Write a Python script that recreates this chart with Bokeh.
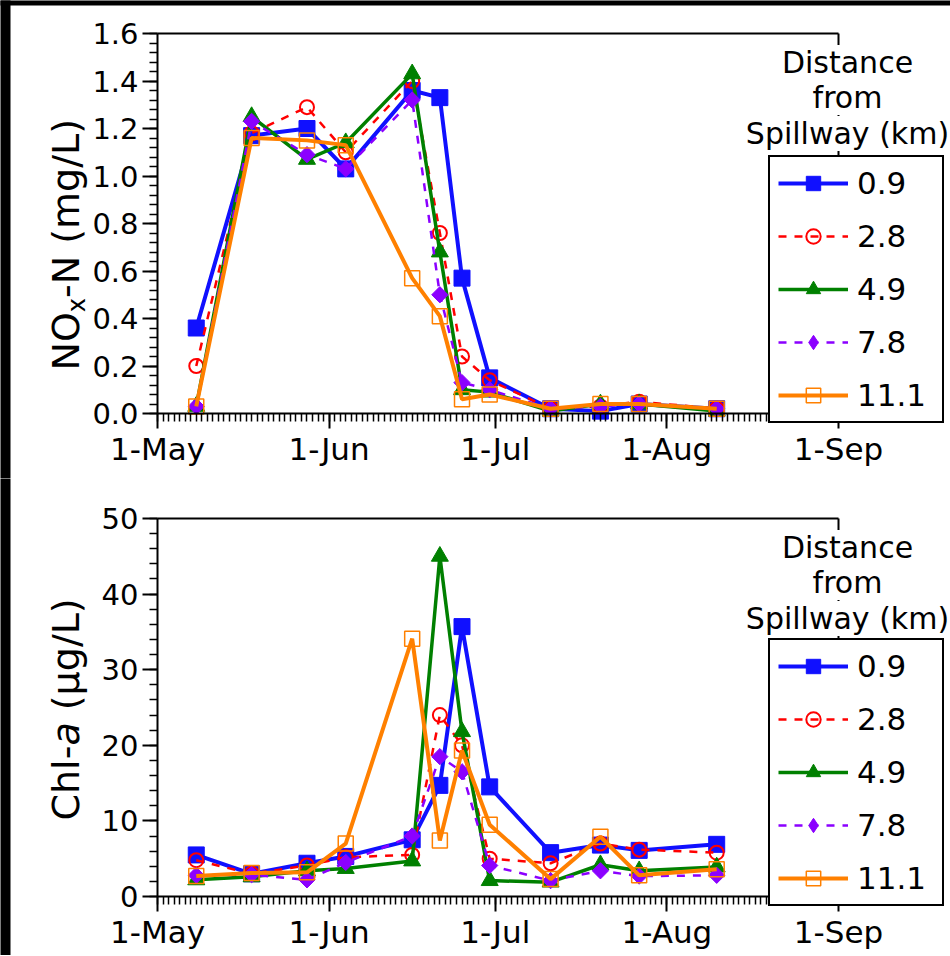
import pandas as pd
from math import pi
from bokeh.plotting import figure
from bokeh.layouts import column
from bokeh.models import (Range1d, FixedTicker, SingleIntervalTicker, PrintfTickFormatter,
                          LinearAxis, Legend, LegendItem, Label, BoxAnnotation)
from bokeh.embed import file_html
from bokeh.resources import INLINE

# ---------------- data ----------------
sample_dates = ["2011-05-08", "2011-05-18", "2011-05-28", "2011-06-04", "2011-06-16", "2011-06-21",
                "2011-06-25", "2011-06-30", "2011-07-11", "2011-07-20", "2011-07-27", "2011-08-10"]
distance_labels = ["0.9", "2.8", "4.9", "7.8", "11.1"]

nox_0_9 = [0.36, 1.17, 1.20, 1.03, 1.36, 1.33, 0.57, 0.15, 0.02, 0.01, 0.04, 0.02]
nox_2_8 = [0.20, 1.18, 1.29, 1.10, 1.40, 0.76, 0.24, 0.14, 0.02, 0.03, 0.05, 0.02]
nox_4_9 = [0.03, 1.25, 1.07, 1.14, 1.43, 0.68, 0.10, 0.09, 0.01, 0.04, 0.04, 0.01]
nox_7_8 = [0.03, 1.23, 1.09, 1.03, 1.32, 0.50, 0.13, 0.10, 0.02, 0.03, 0.04, 0.02]
nox_11_1 = [0.03, 1.16, 1.15, 1.13, 0.57, 0.41, 0.06, 0.08, 0.02, 0.04, 0.04, 0.02]

chl_0_9 = [5.5, 3.0, 4.4, 5.3, 7.5, 14.7, 35.7, 14.5, 5.8, 6.8, 6.1, 6.9]
chl_2_8 = [4.8, 3.0, 4.1, 5.2, 5.5, 24.0, 20.0, 5.0, 4.4, 7.0, 6.2, 5.8]
chl_4_9 = [2.2, 2.6, 3.4, 3.7, 4.7, 45.0, 21.8, 2.1, 1.9, 4.2, 3.4, 3.9]
chl_7_8 = [2.8, 2.9, 2.2, 4.5, 8.0, 18.5, 16.5, 4.1, 2.1, 3.4, 2.7, 2.8]
chl_11_1 = [2.7, 3.1, 3.2, 7.0, 34.1, 7.4, 19.3, 9.5, 2.3, 7.9, 2.8, 3.6]

month_tick_dates = ["2011-05-01", "2011-06-01", "2011-07-01", "2011-08-01", "2011-09-01"]
month_tick_labels = ["1-May", "1-Jun", "1-Jul", "1-Aug", "1-Sep"]
legend_title_lines = ["Distance", "from", "Spillway (km)"]

# ---------------- styles / layout ----------------
FONT = "DejaVu Sans"
series_styles = [
    dict(color="#1010ff", width=4, dash="solid", marker="square", size=16, angle=0, filled=True, mlw=1,
         legend_marker="square"),
    dict(color="#ff0000", width=2.5, dash="8 8", marker="circle", size=14, angle=0, filled=False, mlw=2,
         legend_marker="circle"),
    dict(color="#008000", width=3.5, dash="solid", marker="triangle", size=17, angle=0, filled=True, mlw=1,
         legend_marker="triangle"),
    dict(color="#8b00ff", width=2.5, dash="8 8", marker="square", size=11.5, angle=pi / 4, filled=True, mlw=1,
         legend_marker="diamond"),
    dict(color="#ff8000", width=4, dash="solid", marker="square", size=15, angle=0, filled=False, mlw=1.5,
         legend_marker="square"),
]

# DejaVu Sans advance widths (per 1000 em) used to chain rotated label pieces
ADV = {"N": 748, "O": 787, "x": 592, "-": 361, " ": 318, "(": 390, "m": 974, "g": 635, "/": 337,
       "L": 557, ")": 390, "C": 698, "h": 634, "l": 278, "a": 613, "µ": 636}


def text_w(t, size):
    return sum(ADV.get(c, 600) for c in t) * size / 1000.0


x_dates = pd.to_datetime(sample_dates)
month_ts = pd.to_datetime(month_tick_dates)
month_ms = [int(t.value // 10**6) for t in month_ts]
day_ms = [int(t.value // 10**6) for t in pd.date_range(month_ts[0], month_ts[-1], freq="D")]
MAY1, SEP1 = month_ms[0], month_ms[-1]

W = 950
AX_LEFT_PX, AX_RIGHT_PX = 157, 838          # pixel x of 1-May and 1-Sep
PPMS = (AX_RIGHT_PX - AX_LEFT_PX) / (SEP1 - MAY1)
X_START = MAY1 - AX_LEFT_PX / PPMS
X_END = MAY1 + (W - AX_LEFT_PX) / PPMS


def make_panel(values, y_max, y_step, y_fmt, H, top_px, zero_px, label_pieces, label_start_px,
               legend_bottom_px, title_px, top_strip):
    upp = y_max / (zero_px - top_px)
    y_start = -(H - zero_px) * upp
    y_end = y_max + top_px * upp
    p = figure(width=W, height=H, x_axis_type="datetime",
               x_range=Range1d(X_START, X_END), y_range=Range1d(y_start, y_end),
               output_backend="svg", toolbar_location=None, title=None,
               min_border=0, min_border_left=0, min_border_right=0,
               min_border_top=0, min_border_bottom=0)
    p.outline_line_color = None
    p.background_fill_color = "white"
    p.border_fill_color = "white"
    p.xgrid.visible = False
    p.ygrid.visible = False

    xa = p.xaxis[0]
    xa.ticker = FixedTicker(ticks=month_ms, minor_ticks=day_ms)
    xa.major_label_overrides = {m: lab for m, lab in zip(month_ms, month_tick_labels)}
    xa.fixed_location = 0
    xa.bounds = (MAY1, SEP1)
    ya = p.yaxis[0]
    ya.ticker = SingleIntervalTicker(interval=y_step, num_minor_ticks=5)
    ya.formatter = PrintfTickFormatter(format=y_fmt)
    ya.fixed_location = MAY1
    ya.bounds = (0, y_max)
    for ax in (xa, ya):
        ax.axis_line_width = 2
        ax.axis_line_color = "black"
        ax.major_tick_line_width = 2
        ax.major_tick_out = 15
        ax.major_tick_in = 0
        ax.minor_tick_line_width = 1.5
        ax.minor_tick_out = 8
        ax.minor_tick_in = 0
        ax.major_label_text_font = FONT
        ax.major_label_text_color = "black"
    xa.major_label_text_font_size = "31px"
    xa.major_label_standoff = 2
    ya.major_label_text_font_size = "29px"
    ya.major_label_standoff = 4

    # top and right frame lines
    top_sp = LinearAxis(ticker=FixedTicker(ticks=[]), fixed_location=y_max, bounds=(MAY1, SEP1),
                        axis_line_width=2, axis_line_color="black", major_tick_out=0, major_tick_in=0,
                        minor_tick_out=0, minor_tick_in=0, major_label_text_font_size="0px")
    p.add_layout(top_sp, "above")
    right_sp = LinearAxis(ticker=FixedTicker(ticks=[]), fixed_location=SEP1, bounds=(0, y_max),
                          axis_line_width=2, axis_line_color="black", major_tick_out=0, major_tick_in=0,
                          minor_tick_out=0, minor_tick_in=0, major_label_text_font_size="0px")
    p.add_layout(right_sp, "right")

    items = []
    for vals, st, lab in zip(values, series_styles, distance_labels):
        fill = st["color"] if st["filled"] else None
        lr = p.line(x_dates, vals, line_color=st["color"], line_width=st["width"], line_dash=st["dash"])
        legend_r = None
        if st["legend_marker"] != st["marker"]:
            # tiny marker hidden under the rotated one; the legend draws it at legend size
            legend_r = p.scatter(x_dates, vals, marker=st["legend_marker"], size=3,
                                 line_color=st["color"], line_width=st["mlw"], fill_color=fill)
        sr = p.scatter(x_dates, vals, marker=st["marker"], size=st["size"], angle=st["angle"],
                       line_color=st["color"], line_width=st["mlw"], fill_color=fill)
        items.append(LegendItem(label=lab, renderers=[lr, legend_r if legend_r is not None else sr]))

    leg = Legend(items=items, location=(768, H - legend_bottom_px), orientation="vertical",
                 glyph_width=70, glyph_height=36, label_height=36, label_width=77,
                 label_standoff=9, spacing=17, padding=8, margin=0, title_standoff=0,
                 border_line_color="black", border_line_width=2, border_line_alpha=1,
                 background_fill_color="white", background_fill_alpha=1,
                 label_text_font=FONT, label_text_font_size="31px", label_text_color="black")
    p.add_layout(leg, "center")

    for txt, ty in zip(legend_title_lines, title_px):
        p.add_layout(Label(x=847, y=H - ty, x_units="screen", y_units="screen", text=txt,
                           text_align="center", text_baseline="middle", text_font=FONT,
                           text_font_size="30px", text_color="black",
                           background_fill_color="white", background_fill_alpha=1))

    y = H - label_start_px
    for txt, size, style, xoff in label_pieces:
        core = txt.lstrip(" ")
        y += text_w(txt[:len(txt) - len(core)], size)
        p.add_layout(Label(x=65 + xoff, y=y, x_units="screen", y_units="screen", text=core,
                           angle=pi / 2, text_align="left", text_baseline="alphabetic",
                           text_font=FONT, text_font_size=f"{size}px", text_font_style=style,
                           text_color="black"))
        y += text_w(core, size)

    # dark strips at the left (and top) edge of the picture
    p.add_layout(BoxAnnotation(left=X_START - 5 / PPMS, right=X_START + 10 / PPMS,
                               bottom=y_start - 10 * upp, top=y_end + 10 * upp,
                               fill_color="black", fill_alpha=1, line_color=None))
    if top_strip:
        p.add_layout(BoxAnnotation(left=X_START - 5 / PPMS, right=X_END + 5 / PPMS,
                                   bottom=y_end - 5 * upp, top=y_end + 10 * upp,
                                   fill_color="black", fill_alpha=1, line_color=None))
    return p


top = make_panel([nox_0_9, nox_2_8, nox_4_9, nox_7_8, nox_11_1], 1.6, 0.2, "%.1f",
                 478, 33, 413,
                 [("NO", 38, "normal", 0), ("x", 24, "normal", 11), ("-N (mg/L)", 38, "normal", 0)],
                 370, 423, (62, 97, 133), True)
bottom = make_panel([chl_0_9, chl_2_8, chl_4_9, chl_7_8, chl_11_1], 50, 10, "%d",
                    477, 40, 418,
                    [("Chl-", 38, "normal", 0), ("a", 38, "italic", 0), (" (µg/L)", 38, "normal", 0)],
                    342, 428, (69, 104, 140), False)

layout = column(top, bottom, spacing=0)
open("out.html", "w").write(file_html(layout, INLINE))
